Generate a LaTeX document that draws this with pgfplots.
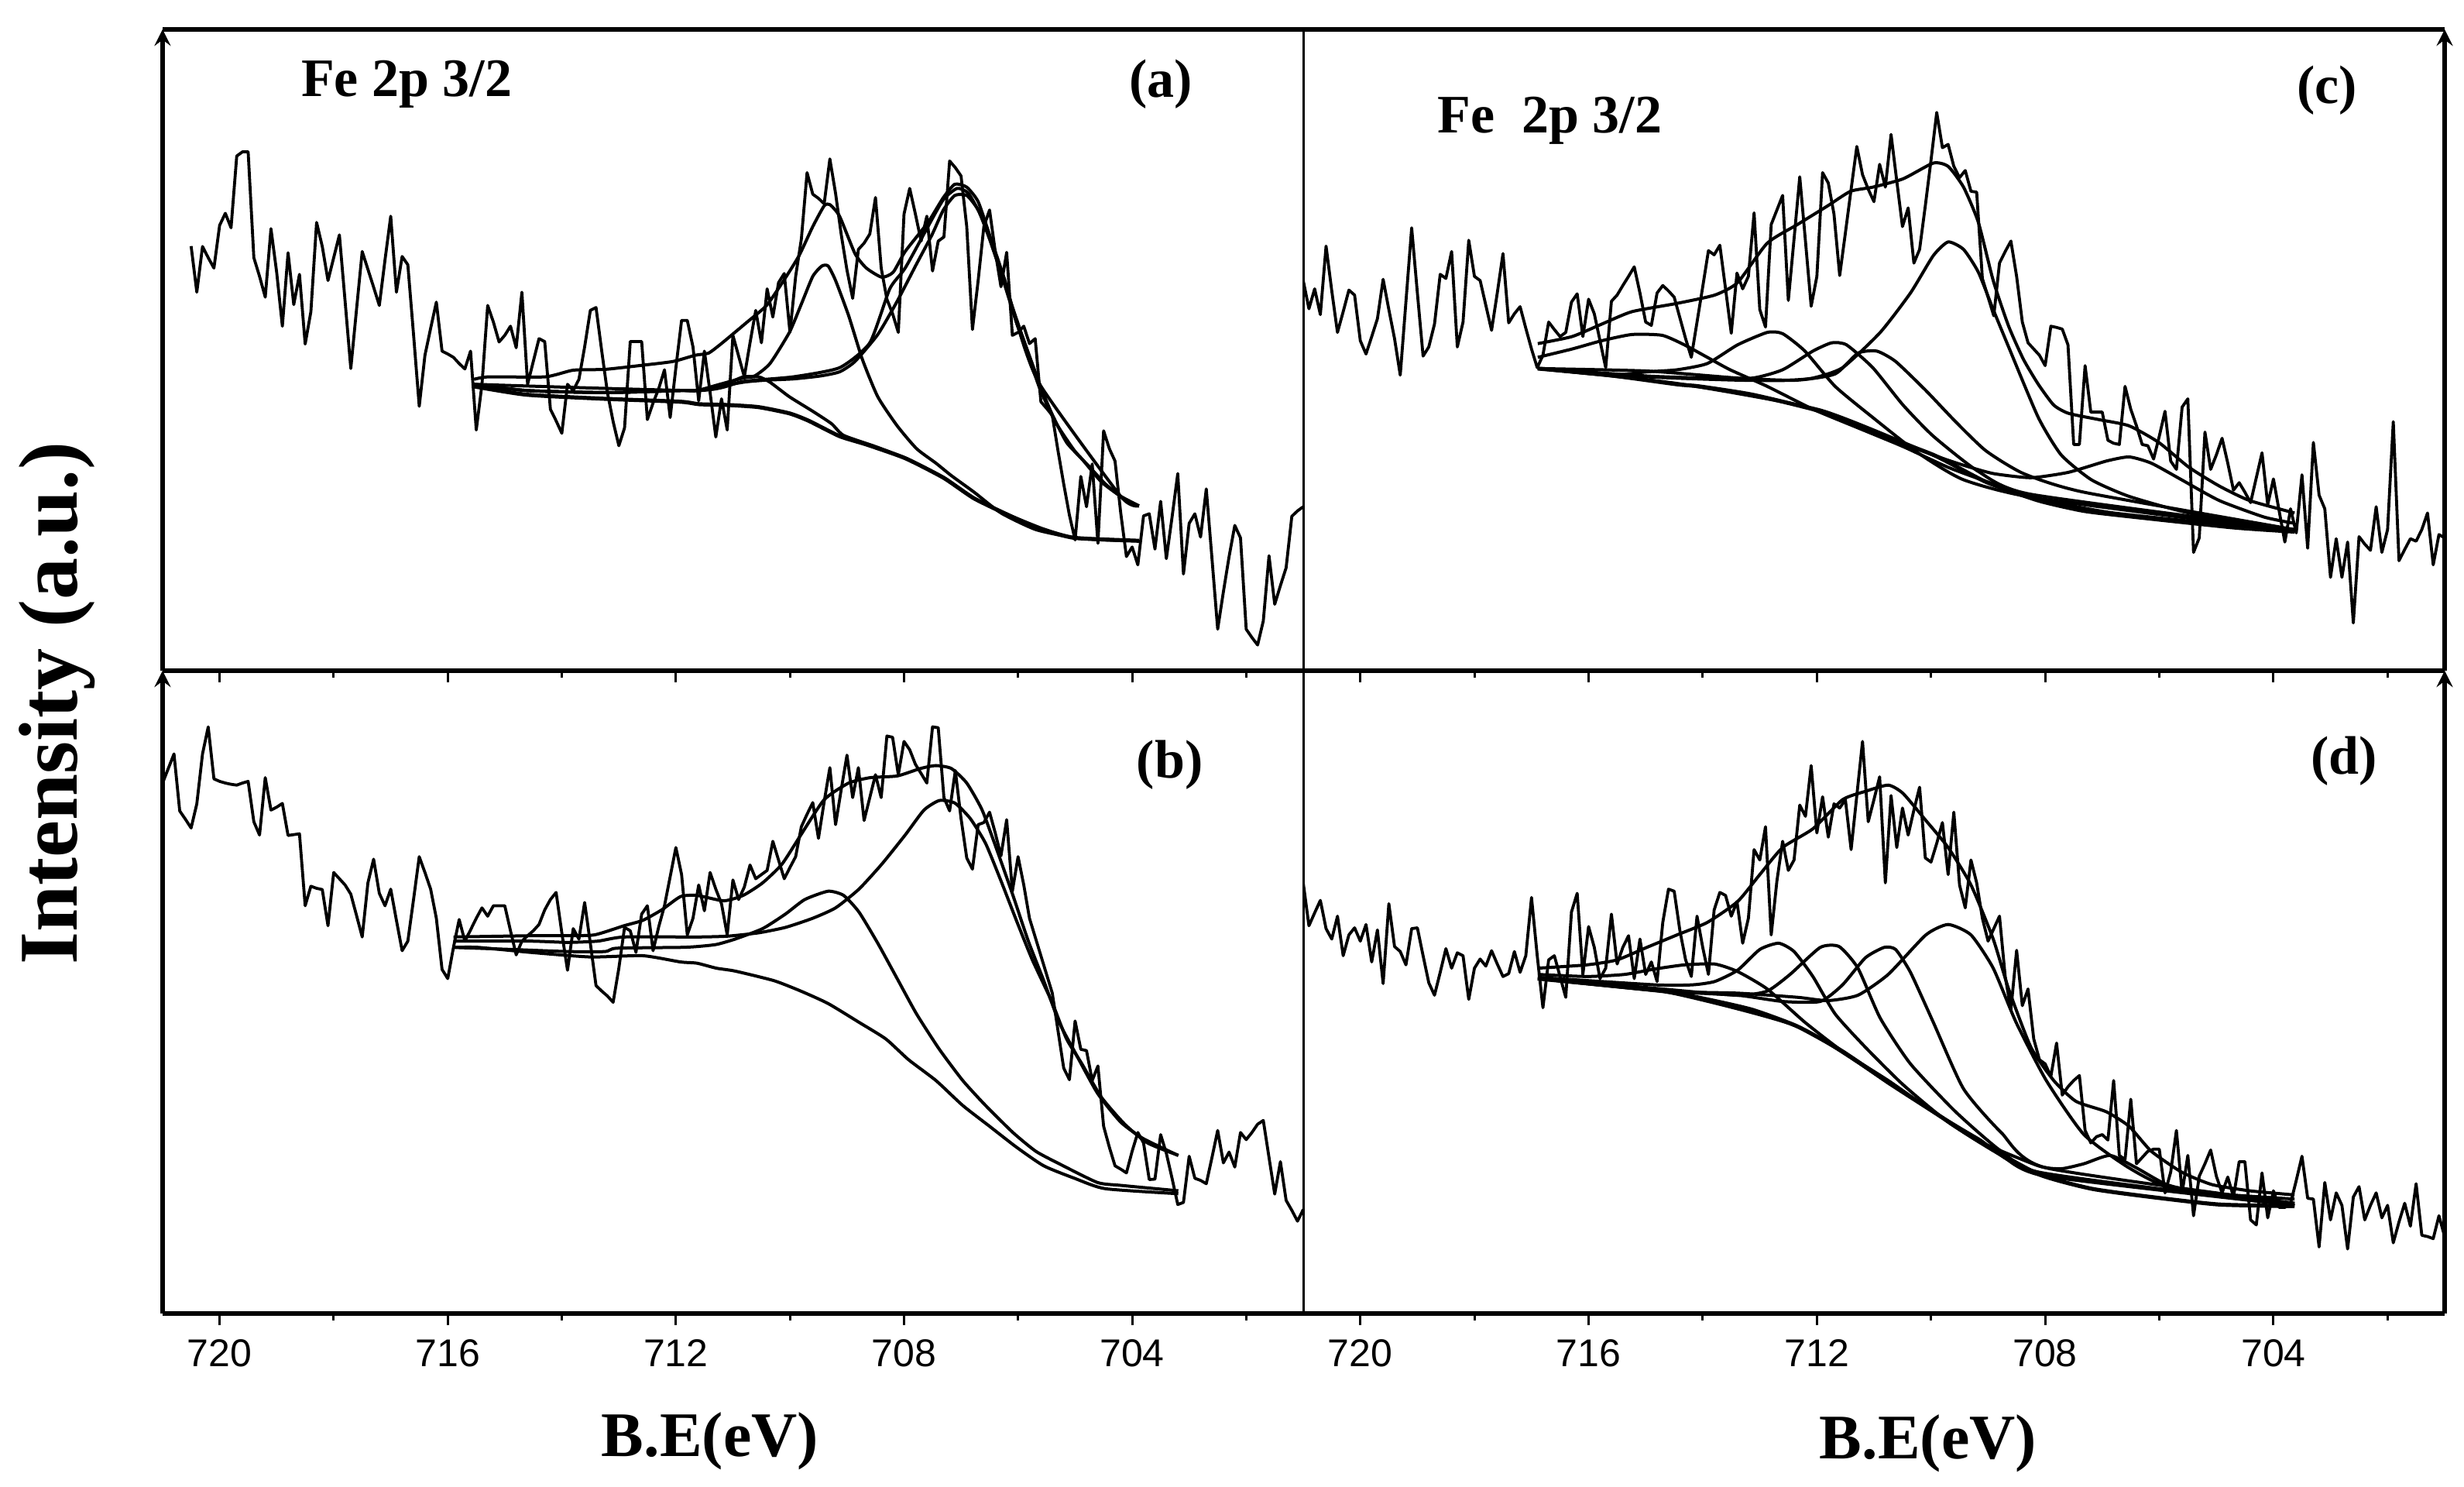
\documentclass[border=0pt]{standalone}
\usepackage{fontspec}
\setmainfont{Liberation Serif}
\newfontfamily\ticksans{Liberation Sans}
\usepackage{pgfplots}
\pgfplotsset{compat=1.18}

% 1 px of the reference = 0.25pt; intensity is in a.u.
\pgfplotsset{
  panel/.style={
    scale only axis,
    anchor=south west,
    x dir=reverse,
    xmin=701, xmax=721,
    ymin=0, ymax=1545,
    xtick={720,716,712,708,704},
    minor xtick={718,714,710,706,702},
    ytick=\empty,
    axis x line=box,
    xtick pos=lower,
    tick align=outside,
    major tick length=3.8pt,
    minor tick length=2.2pt,
    every tick/.style={black,line width=0.75pt},
    every minor tick/.style={black,line width=0.75pt},
    axis line style={black,line width=1.3pt,-},
    every outer y axis line/.append style={-},
    every inner y axis line/.append style={-},
    y axis line style={-},
    /pgf/number format/assume math mode=true,
    /pgf/number format/1000 sep={},
    xticklabel style={font=\ticksans\fontsize{12.5}{14}\selectfont,yshift=-1pt},
    xlabel style={font=\bfseries\fontsize{20.5}{24}\selectfont,anchor=center},
    ylabel style={font=\bfseries\fontsize{27}{32}\selectfont,anchor=center,rotate=0},
  },
  raw/.style={black,line width=0.95pt,line join=round,no markers},
  fit/.style={black,line width=1pt,line join=round,no markers,smooth,tension=0.35},
  bg/.style={black,line width=1.3pt,line join=round,no markers,smooth,tension=0.35},
}
\tikzset{tag/.style={font=\bfseries\fontsize{17.5}{20}\selectfont,anchor=center}}

\begin{document}
\begin{tikzpicture}
\path[use as bounding box] (0,0) rectangle (795.5pt,479.75pt);

% (a)
\begin{axis}[panel,at={(52.5pt,263.25pt)},width=368.25pt,height=207pt,axis y line=left,xticklabel=\empty]
\addplot[raw] coordinates {
(720.5,1023)(720.4,912)(720.3,1022)(720.2,995)(720.1,970)(720.0,1073)(719.9,1102)(719.8,1067)(719.7,1240)(719.6,1250)
(719.5,1250)(719.4,995)(719.3,950)(719.2,900)(719.1,1065)(719.0,960)(718.9,830)(718.8,1007)(718.7,882)(718.6,955)
(718.5,787)(718.4,865)(718.3,1080)(718.2,1022)(718.1,940)(718.0,995)(717.9,1050)(717.8,890)(717.7,728)(717.6,870)
(717.5,1010)(717.4,967)(717.3,924)(717.2,880)(717.1,990)(717.0,1095)(716.9,912)(716.8,998)(716.7,978)(716.6,810)
(716.5,637)(716.4,760)(716.3,825)(716.2,888)(716.1,770)(716.0,763)(715.9,755)(715.8,740)(715.7,727)(715.6,770)
(715.5,580)(715.4,690)(715.3,880)(715.2,840)(715.1,792)(715.0,808)(714.9,830)(714.8,778)(714.7,912)(714.6,690)
(714.5,745)(714.4,800)(714.3,793)(714.2,630)(714.1,602)(714.0,572)(713.9,690)(713.8,675)(713.7,702)(713.6,780)
(713.5,868)(713.4,875)(713.3,770)(713.2,670)(713.1,600)(713.0,542)(712.9,585)(712.8,793)(712.7,793)(712.6,793)
(712.5,605)(712.4,645)(712.3,680)(712.2,725)(712.1,610)(712.0,730)(711.9,844)(711.8,844)(711.7,780)(711.6,650)
(711.5,770)(711.4,670)(711.3,563)(711.2,655)(711.1,580)(711.0,808)(710.9,758)(710.8,708)(710.7,790)(710.6,868)
(710.5,790)(710.4,920)(710.3,852)(710.2,935)(710.1,957)(710.0,815)(709.9,950)(709.8,1040)(709.7,1200)(709.6,1148)
(709.5,1138)(709.4,1125)(709.3,1233)(709.2,1150)(709.1,1050)(709.0,965)(708.9,897)(708.8,1015)(708.7,1030)(708.6,1052)
(708.5,1140)(708.4,970)(708.3,895)(708.2,860)(708.1,815)(708.0,1100)(707.9,1162)(707.8,1100)(707.7,1035)(707.6,1095)
(707.5,963)(707.4,1035)(707.3,1045)(707.2,1228)(707.1,1212)(707.0,1192)(706.9,1070)(706.8,822)(706.7,940)(706.6,1070)
(706.5,1110)(706.4,1010)(706.3,925)(706.2,1008)(706.1,808)(706.0,815)(705.9,830)(705.8,788)(705.7,800)(705.6,648)
(705.5,632)(705.4,615)(705.3,530)(705.2,450)(705.1,375)(705.0,315)(704.9,468)(704.8,395)(704.7,498)(704.6,307)
(704.5,578)(704.4,535)(704.3,505)(704.2,380)(704.1,275)(704.0,298)(703.9,255)(703.8,373)(703.7,378)(703.6,293)
(703.5,408)(703.4,270)(703.3,370)(703.2,475)(703.1,233)(703.0,355)(702.9,378)(702.8,322)(702.7,438)(702.6,270)
(702.5,100)(702.4,190)(702.3,275)(702.2,350)(702.1,320)(702.0,100)(701.9,80)(701.8,62)(701.7,120)(701.6,277)
(701.5,160)(701.4,205)(701.3,248)(701.2,372)(701.1,385)(701.0,395)
};
\addplot[fit] coordinates {(715.54,702)(715.28,708)(714.29,708)(713.80,724)(713.24,726)(712.58,736)(712.05,745)(711.66,760)(711.43,765)(711.23,785)(711.01,810)(710.75,840)(710.41,880)(710.11,940)(709.84,1000)(709.60,1070)(709.40,1120)(709.30,1123)(709.13,1095)(708.86,1005)(708.66,970)(708.39,948)(708.19,960)(707.98,1010)(707.58,1080)(707.31,1140)(707.11,1172)(706.90,1165)(706.70,1130)(706.50,1050)(706.23,940)(706.03,840)(705.82,760)(705.62,680)(705.35,600)(705.01,530)(704.74,490)(704.47,450)(704.20,420)(703.88,397)};
\addplot[fit] coordinates {(715.54,690)(714.62,675)(713.24,670)(711.92,675)(711.63,675)(711.23,685)(710.82,708)(710.62,710)(710.35,740)(710.01,815)(709.81,880)(709.60,950)(709.44,975)(709.33,975)(709.20,940)(708.97,855)(708.73,750)(708.46,660)(708.12,590)(707.78,535)(707.44,500)(707.17,470)(706.77,430)(706.30,380)(705.69,340)(705.01,320)(704.47,315)(703.88,313)};
\addplot[fit] coordinates {(715.54,690)(714.62,675)(713.24,670)(711.92,675)(711.63,675)(710.82,695)(710.41,700)(709.94,703)(709.47,710)(709.13,720)(708.86,745)(708.46,810)(708.12,890)(707.78,980)(707.51,1050)(707.31,1110)(707.11,1145)(706.90,1145)(706.70,1110)(706.50,1040)(706.23,930)(705.96,820)(705.62,690)(705.41,620)(705.15,550)(704.88,510)(704.54,455)(704.20,420)(703.88,397)};
\addplot[fit] coordinates {(715.54,690)(711.63,675)(710.82,697)(709.94,708)(709.13,730)(708.60,790)(708.25,920)(707.98,970)(707.58,1070)(707.31,1135)(707.07,1162)(706.87,1150)(706.63,1090)(706.36,985)(706.03,840)(705.62,690)(704.20,420)(703.88,397)};
\addplot[fit] coordinates {(715.54,690)(714.62,675)(713.24,670)(711.92,675)(711.63,675)(711.23,690)(710.82,705)(710.55,708)(710.35,695)(710.01,660)(709.60,625)(709.27,595)(709.06,567)(708.50,540)(707.98,512)(707.30,465)(706.77,415)(706.09,370)(705.55,340)(705.01,320)(703.88,313)};
\addplot[bg] coordinates {(715.54,685)(714.62,665)(713.24,655)(711.92,648)(711.59,642)(711.07,640)(710.55,635)(710.01,620)(709.67,602)(709.13,565)(708.66,545)(707.98,512)(707.31,465)(706.77,415)(706.09,370)(705.55,340)(705.01,320)(703.88,313)};
\node[tag] at (axis description cs:0.214,0.915) {Fe 2p 3/2};
\node[tag] at (axis description cs:0.875,0.915) {(a)};
\end{axis}

% (b)
\begin{axis}[panel,at={(52.5pt,55.75pt)},width=368.25pt,height=207.5pt,axis y line=left,
  xlabel={B.E(eV)},xlabel style={at={(axis description cs:0.48,-0.198)}},
  ylabel={Intensity (a.u.)},ylabel style={at={(axis description cs:-0.0925,0.949)}}]
\addplot[raw] coordinates {
(721.0,1275)(720.9,1310)(720.8,1345)(720.7,1208)(720.6,1188)(720.5,1167)(720.4,1225)(720.3,1345)(720.2,1410)(720.1,1285)
(720.0,1279)(719.9,1275)(719.8,1272)(719.7,1270)(719.6,1275)(719.5,1279)(719.4,1182)(719.3,1150)(719.2,1288)(719.1,1210)
(719.0,1217)(718.9,1226)(718.8,1149)(718.7,1151)(718.6,1153)(718.5,980)(718.4,1027)(718.3,1022)(718.2,1019)(718.1,932)
(718.0,1060)(717.9,1045)(717.8,1030)(717.7,1008)(717.6,957)(717.5,905)(717.4,1035)(717.3,1092)(717.2,1010)(717.1,980)
(717.0,1020)(716.9,945)(716.8,872)(716.7,895)(716.6,995)(716.5,1098)(716.4,1060)(716.3,1020)(716.2,950)(716.1,827)
(716.0,805)(715.9,880)(715.8,947)(715.7,895)(715.6,922)(715.5,950)(715.4,975)(715.3,955)(715.2,980)(715.1,980)
(715.0,980)(714.9,920)(714.8,862)(714.7,895)(714.6,908)(714.5,920)(714.4,935)(714.3,970)(714.2,995)(714.1,1012)
(714.0,915)(713.9,825)(713.8,925)(713.7,900)(713.6,988)(713.5,890)(713.4,788)(713.3,775)(713.2,763)(713.1,748)
(713.0,830)(712.9,928)(712.8,920)(712.7,868)(712.6,960)(712.5,980)(712.4,872)(712.3,930)(712.2,980)(712.1,1050)
(712.0,1120)(711.9,1055)(711.8,910)(711.7,950)(711.6,1030)(711.5,968)(711.4,1060)(711.3,1020)(711.2,985)(711.1,910)
(711.0,1042)(710.9,995)(710.8,1025)(710.7,1078)(710.6,1045)(710.5,1055)(710.4,1065)(710.3,1135)(710.2,1090)(710.1,1045)
(710.0,1072)(709.9,1098)(709.8,1170)(709.7,1200)(709.6,1228)(709.5,1142)(709.4,1230)(709.3,1312)(709.2,1175)(709.1,1260)
(709.0,1342)(708.9,1240)(708.8,1312)(708.7,1185)(708.6,1240)(708.5,1295)(708.4,1240)(708.3,1388)(708.2,1385)(708.1,1295)
(708.0,1375)(707.9,1355)(707.8,1320)(707.7,1298)(707.6,1275)(707.5,1410)(707.4,1408)(707.3,1240)(707.2,1208)(707.1,1305)
(707.0,1190)(706.9,1095)(706.8,1068)(706.7,1175)(706.6,1180)(706.5,1205)(706.4,1155)(706.3,1100)(706.2,1187)(706.1,1015)
(706.0,1098)(705.9,1030)(705.8,950)(705.7,905)(705.6,860)(705.5,815)(705.4,770)(705.3,680)(705.2,590)(705.1,562)
(705.0,703)(704.9,635)(704.8,632)(704.7,560)(704.6,595)(704.5,450)(704.4,400)(704.3,355)(704.2,347)(704.1,338)
(704.0,390)(703.9,435)(703.8,410)(703.7,322)(703.6,323)(703.5,430)(703.4,385)(703.3,325)(703.2,262)(703.1,267)
(703.0,378)(702.9,325)(702.8,320)(702.7,312)(702.6,375)(702.5,440)(702.4,362)(702.3,388)(702.2,352)(702.1,435)
(702.0,418)(701.9,435)(701.8,455)(701.7,464)(701.6,375)(701.5,287)(701.4,365)(701.3,272)(701.2,248)(701.1,222)(701.0,250)
};
\addplot[fit] coordinates {(715.90,905)(714.55,908)(713.96,908)(713.43,910)(712.91,932)(712.58,945)(712.25,970)(711.92,1002)(711.63,1005)(711.16,992)(710.82,1005)(710.48,1035)(710.14,1080)(709.81,1150)(709.40,1235)(708.97,1275)(708.59,1288)(708.12,1292)(707.71,1310)(707.44,1317)(707.17,1310)(706.90,1275)(706.63,1210)(706.36,1110)(706.09,1005)(705.82,895)(705.55,800)(705.28,700)(705.01,630)(704.61,530)(704.20,460)(703.80,420)(703.19,380)};
\addplot[fit] coordinates {(715.90,895)(714.55,895)(713.90,892)(713.37,895)(712.91,905)(711.63,905)(711.09,907)(710.55,915)(710.08,928)(709.60,950)(709.20,975)(708.79,1020)(708.39,1080)(707.98,1150)(707.65,1210)(707.38,1233)(707.11,1227)(706.84,1190)(706.57,1130)(706.30,1040)(706.03,945)(705.75,850)(705.41,750)(705.15,660)(704.88,600)(704.54,520)(704.13,455)(703.73,410)(703.19,380)};
\addplot[fit] coordinates {(715.90,880)(714.88,875)(713.90,870)(713.24,870)(713.04,878)(711.92,880)(711.63,882)(711.29,887)(710.96,900)(710.48,925)(710.08,960)(709.74,995)(709.33,1015)(709.06,1005)(708.79,965)(708.46,890)(708.12,805)(707.78,720)(707.38,635)(706.97,560)(706.57,500)(706.09,435)(705.69,390)(705.28,360)(704.61,315)(704.20,308)(703.19,295)};
\addplot[fit] coordinates {(715.90,880)(715.47,880)(714.55,868)(713.50,857)(712.58,860)(711.92,845)(711.63,842)(711.29,830)(710.96,823)(710.28,800)(709.81,775)(709.33,745)(708.79,700)(708.32,660)(707.92,610)(707.44,560)(706.97,500)(706.50,450)(706.03,400)(705.55,355)(705.01,325)(704.47,300)(703.19,288)};
\node[tag] at (axis description cs:0.883,0.853) {(b)};
\end{axis}

% (c)
\begin{axis}[panel,at={(420.75pt,263.25pt)},width=368.5pt,height=207pt,axis y line=right,xticklabel=\empty]
\addplot[raw] coordinates {
(721.0,940)(720.9,872)(720.8,920)(720.7,858)(720.6,1023)(720.5,915)(720.4,815)(720.3,865)(720.2,917)(720.1,905)
(720.0,795)(719.9,763)(719.8,805)(719.7,848)(719.6,943)(719.5,870)(719.4,800)(719.3,712)(719.2,890)(719.1,1067)
(719.0,910)(718.9,758)(718.8,780)(718.7,835)(718.6,955)(718.5,945)(718.4,1010)(718.3,780)(718.2,840)(718.1,1037)
(718.0,950)(717.9,940)(717.8,880)(717.7,820)(717.6,910)(717.5,1005)(717.4,838)(717.3,860)(717.2,877)(717.1,825)
(717.0,775)(716.9,730)(716.8,760)(716.7,840)(716.6,822)(716.5,805)(716.4,815)(716.3,888)(716.2,908)(716.1,805)
(716.0,895)(715.9,860)(715.8,795)(715.7,730)(715.6,890)(715.5,905)(715.4,928)(715.3,950)(715.2,973)(715.1,910)
(715.0,840)(714.9,832)(714.8,910)(714.7,928)(714.6,915)(714.5,900)(714.4,850)(714.3,800)(714.2,755)(714.1,840)
(714.0,925)(713.9,1012)(713.8,1002)(713.7,1025)(713.6,920)(713.5,813)(713.4,958)(713.3,920)(713.2,950)(713.1,1103)
(713.0,870)(712.9,828)(712.8,1075)(712.7,1110)(712.6,1145)(712.5,892)(712.4,1040)(712.3,1190)(712.2,1035)(712.1,878)
(712.0,950)(711.9,1200)(711.8,1175)(711.7,1100)(711.6,952)(711.5,1055)(711.4,1160)(711.3,1263)(711.2,1195)(711.1,1160)
(711.0,1130)(710.9,1220)(710.8,1165)(710.7,1292)(710.6,1180)(710.5,1070)(710.4,1115)(710.3,982)(710.2,1015)(710.1,1120)
(710.0,1230)(709.9,1345)(709.8,1260)(709.7,1268)(709.6,1215)(709.5,1188)(709.4,1205)(709.3,1155)(709.2,1153)(709.1,945)
(709.0,900)(708.9,855)(708.8,982)(708.7,1010)(708.6,1035)(708.5,950)(708.4,840)(708.3,790)(708.2,775)(708.1,760)
(708.0,735)(707.9,830)(707.8,827)(707.7,823)(707.6,785)(707.5,545)(707.4,545)(707.3,735)(707.2,623)(707.1,623)
(707.0,623)(706.9,555)(706.8,548)(706.7,545)(706.6,685)(706.5,630)(706.4,590)(706.3,545)(706.2,542)(706.1,510)
(706.0,565)(705.9,625)(705.8,505)(705.7,485)(705.6,635)(705.5,655)(705.4,285)(705.3,320)(705.2,575)(705.1,485)
(705.0,520)(704.9,560)(704.8,500)(704.7,435)(704.6,453)(704.5,430)(704.4,405)(704.3,465)(704.2,525)(704.1,400)
(704.0,462)(703.9,385)(703.8,310)(703.7,390)(703.6,332)(703.5,472)(703.4,295)(703.3,550)(703.2,423)(703.1,390)
(703.0,225)(702.9,318)(702.8,225)(702.7,310)(702.6,115)(702.5,323)(702.4,305)(702.3,290)(702.2,395)(702.1,285)
(702.0,340)(701.9,600)(701.8,265)(701.7,292)(701.6,318)(701.5,312)(701.4,340)(701.3,380)(701.2,255)(701.1,328)(701.0,320)
};
\addplot[fit] coordinates {(716.89,788)(716.29,805)(715.77,835)(715.24,865)(714.45,885)(713.79,905)(713.39,935)(712.87,1030)(712.34,1075)(711.81,1120)(711.41,1155)(711.02,1165)(710.49,1185)(709.96,1223)(709.70,1215)(709.43,1165)(709.17,1080)(708.91,940)(708.64,830)(708.38,750)(708.12,690)(707.85,640)(707.59,620)(707.06,605)(706.53,590)(706.01,550)(705.48,490)(704.95,445)(704.42,410)(703.63,380)};
\addplot[fit] coordinates {(716.89,755)(716.29,775)(715.77,795)(715.24,810)(714.71,808)(714.32,785)(713.92,755)(713.52,725)(712.87,685)(712.07,630)(711.28,585)(710.49,540)(709.70,490)(708.91,450)(708.12,415)(706.80,380)(703.63,335)};
\addplot[fit] coordinates {(716.89,728)(715.64,712)(714.98,720)(714.45,725)(713.92,740)(713.39,785)(712.87,815)(712.60,812)(712.21,770)(711.68,685)(711.02,610)(710.23,525)(709.43,460)(708.12,415)(703.63,335)};
\addplot[fit] coordinates {(716.89,728)(714.98,710)(713.92,705)(713.13,705)(712.60,725)(712.07,770)(711.74,790)(711.48,785)(711.02,730)(710.49,640)(709.96,565)(709.17,480)(708.25,425)(703.63,340)};
\addplot[fit] coordinates {(716.89,728)(714.98,708)(713.39,700)(712.34,700)(711.68,715)(711.28,765)(710.95,770)(710.62,745)(710.09,675)(709.57,600)(709.04,530)(708.38,475)(707.32,430)(703.63,340)};
\addplot[fit] coordinates {(716.89,728)(714.98,722)(713.39,705)(712.54,700)(712.07,705)(711.55,730)(710.89,815)(710.36,910)(709.96,1000)(709.70,1033)(709.43,1015)(709.17,960)(708.91,870)(708.64,780)(708.12,610)(707.72,520)(707.19,460)(706.53,420)(705.48,380)(703.63,335)};
\addplot[fit] coordinates {(716.89,728)(714.45,692)(711.94,628)(709.96,520)(709.43,495)(708.91,475)(708.25,465)(707.59,478)(706.93,505)(706.53,515)(706.14,500)(705.61,460)(704.95,410)(704.16,370)(703.63,355)};
\addplot[bg] coordinates {(716.89,728)(715.64,712)(714.45,690)(714.06,685)(713.13,665)(711.94,625)(711.15,580)(709.96,520)(709.04,455)(708.12,410)(707.32,385)(706.40,370)(704.69,345)(703.63,335)};
\node[tag] at (axis description cs:0.216,0.858) {Fe\ \ 2p 3/2};
\node[tag] at (axis description cs:0.897,0.905) {(c)};
\end{axis}

% (d)
\begin{axis}[panel,at={(420.75pt,55.75pt)},width=368.5pt,height=207.5pt,axis y line=right,
  xlabel={B.E(eV)},xlabel style={at={(axis description cs:0.5475,-0.202)}}]
\addplot[raw] coordinates {
(721.0,1035)(720.9,932)(720.8,963)(720.7,993)(720.6,925)(720.5,900)(720.4,955)(720.3,860)(720.2,910)(720.1,927)
(720.0,895)(719.9,935)(719.8,845)(719.7,922)(719.6,793)(719.5,985)(719.4,882)(719.3,870)(719.2,838)(719.1,925)
(719.0,927)(718.9,860)(718.8,795)(718.7,765)(718.6,820)(718.5,877)(718.4,830)(718.3,867)(718.2,860)(718.1,755)
(718.0,830)(717.9,852)(717.8,835)(717.7,872)(717.6,840)(717.5,810)(717.4,817)(717.3,870)(717.2,820)(717.1,860)
(717.0,1000)(716.9,860)(716.8,735)(716.7,850)(716.6,860)(716.5,810)(716.4,760)(716.3,965)(716.2,1010)(716.1,815)
(716.0,930)(715.9,880)(715.8,805)(715.7,830)(715.6,960)(715.5,840)(715.4,880)(715.3,908)(715.2,805)(715.1,900)
(715.0,815)(714.9,845)(714.8,798)(714.7,940)(714.6,1020)(714.5,1015)(714.4,920)(714.3,850)(714.2,810)(714.1,955)
(714.0,880)(713.9,815)(713.8,970)(713.7,1012)(713.6,1005)(713.5,955)(713.4,990)(713.3,890)(713.2,950)(713.1,1115)
(713.0,1090)(712.9,1170)(712.8,910)(712.7,1040)(712.6,1135)(712.5,1065)(712.4,1090)(712.3,1222)(712.2,1195)(712.1,1317)
(712.0,1155)(711.9,1242)(711.8,1145)(711.7,1225)(711.6,1215)(711.5,1235)(711.4,1115)(711.3,1245)(711.2,1375)(711.1,1182)
(711.0,1235)(710.9,1290)(710.8,1035)(710.7,1245)(710.6,1120)(710.5,1215)(710.4,1150)(710.3,1210)(710.2,1265)(710.1,1095)
(710.0,1085)(709.9,1130)(709.8,1180)(709.7,1055)(709.6,1205)(709.5,1030)(709.4,975)(709.3,1090)(709.2,1035)(709.1,950)
(709.0,895)(708.9,925)(708.8,955)(708.7,810)(708.6,730)(708.5,873)(708.4,740)(708.3,780)(708.2,660)(708.1,610)
(708.0,600)(707.9,570)(707.8,650)(707.7,525)(707.6,545)(707.5,560)(707.4,572)(707.3,440)(707.2,410)(707.1,425)
(707.0,430)(706.9,417)(706.8,560)(706.7,380)(706.6,370)(706.5,515)(706.4,360)(706.3,375)(706.2,390)(706.1,395)
(706.0,395)(705.9,290)(705.8,340)(705.7,440)(705.6,290)(705.5,380)(705.4,235)(705.3,330)(705.2,360)(705.1,393)
(705.0,330)(704.9,290)(704.8,328)(704.7,280)(704.6,365)(704.5,365)(704.4,225)(704.3,213)(704.2,338)(704.1,230)
(704.0,295)(703.9,255)(703.8,255)(703.7,265)(703.6,320)(703.5,378)(703.4,277)(703.3,275)(703.2,160)(703.1,315)
(703.0,225)(702.9,290)(702.8,260)(702.7,155)(702.6,280)(702.5,305)(702.4,225)(702.3,260)(702.2,290)(702.1,230)
(702.0,260)(701.9,170)(701.8,220)(701.7,265)(701.6,210)(701.5,312)(701.4,188)(701.3,185)(701.2,180)(701.1,235)(701.0,185)
};
\addplot[fit] coordinates {(716.89,830)(716.03,838)(715.50,850)(714.98,880)(714.45,910)(713.92,940)(713.39,990)(713.00,1055)(712.60,1120)(712.07,1165)(711.55,1235)(711.15,1255)(710.75,1270)(710.49,1250)(710.09,1185)(709.70,1120)(709.30,1030)(708.91,900)(708.64,780)(708.25,640)(707.85,560)(707.46,510)(706.93,485)(706.53,450)(706.14,390)(705.61,340)(705.08,310)(704.42,295)(703.63,285)};
\addplot[fit] coordinates {(716.89,815)(716.03,810)(715.37,815)(714.84,828)(714.32,838)(713.79,840)(713.39,822)(712.87,780)(712.21,700)(711.55,630)(710.75,560)(709.96,485)(709.17,420)(708.12,340)(703.63,260)};
\addplot[fit] coordinates {(716.89,808)(714.84,790)(714.18,790)(713.79,798)(713.39,825)(713.00,875)(712.67,890)(712.40,870)(712.07,810)(711.68,720)(711.15,640)(710.49,550)(709.70,460)(708.77,380)(707.98,330)(703.63,260)};
\addplot[fit] coordinates {(716.89,808)(714.71,780)(713.39,765)(712.87,775)(712.47,815)(711.94,880)(711.61,882)(711.28,830)(710.89,710)(710.36,600)(709.57,485)(708.77,390)(707.98,335)(703.63,260)};
\addplot[fit] coordinates {(716.89,805)(714.71,775)(713.39,765)(712.60,750)(711.94,750)(711.55,790)(711.15,855)(710.82,880)(710.62,875)(710.36,820)(709.96,700)(709.43,540)(708.77,435)(707.98,350)(703.63,265)};
\addplot[fit] coordinates {(716.89,805)(714.71,775)(713.39,770)(712.34,760)(711.81,752)(711.28,765)(710.75,815)(710.09,910)(709.70,935)(709.30,910)(708.91,830)(708.51,700)(707.98,560)(707.32,430)(706.53,350)(705.74,300)(703.63,265)};
\addplot[fit] coordinates {(716.89,805)(714.71,775)(712.34,690)(710.75,555)(709.96,485)(709.17,415)(708.12,355)(707.72,348)(707.32,360)(706.86,380)(706.40,350)(705.87,310)(705.21,290)(703.63,275)};
\addplot[bg] coordinates {(716.89,805)(714.71,775)(713.92,755)(713.13,730)(712.34,690)(711.55,630)(710.75,555)(709.96,485)(709.17,415)(708.12,335)(707.19,300)(706.14,280)(704.95,262)(703.63,258)};
\node[tag] at (axis description cs:0.912,0.860) {(d)};
\end{axis}

% thin divider between the left and right panels
\draw[black,line width=0.75pt] (420.75pt,55.75pt) -- (420.75pt,470.25pt);
\end{tikzpicture}
\end{document}
